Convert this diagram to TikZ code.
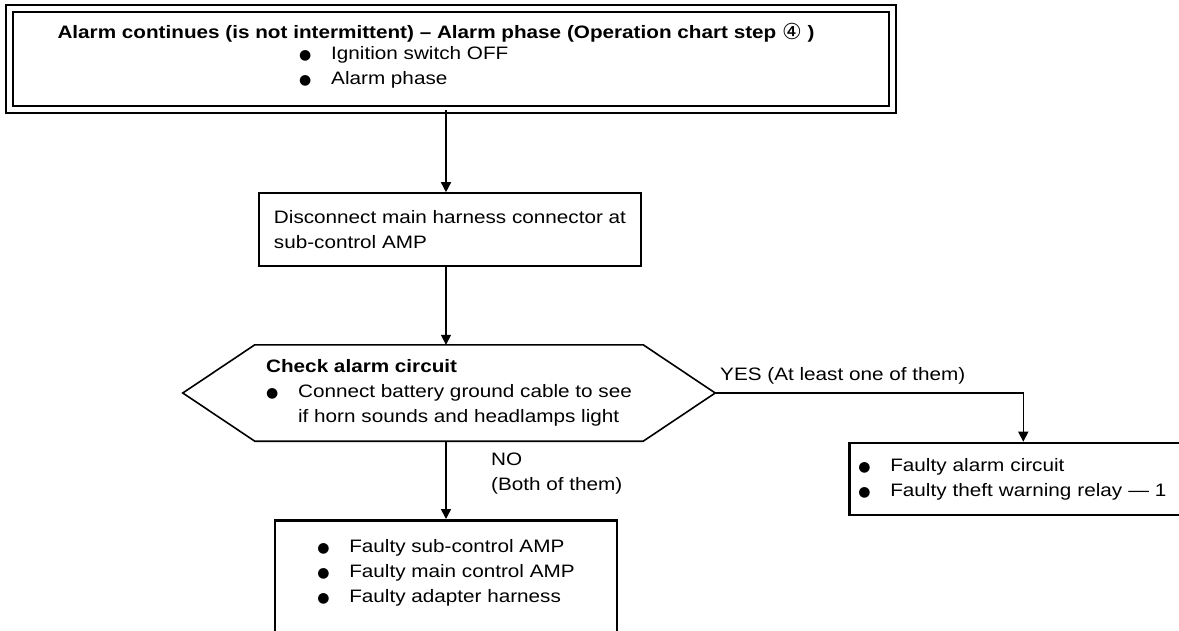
\documentclass[tikz,border=0pt]{standalone}
\usepackage{fontspec}
\setmainfont{Liberation Sans}[FakeStretch=1.15]
\newfontfamily\symfnt{DejaVu Sans}
\usetikzlibrary{arrows.meta}

\newcommand\bul{\makebox[32pt][l]{\symfnt\fontsize{14}{14}\selectfont ●}}

\begin{document}
\begin{tikzpicture}[
    x=1pt, y=-1pt,
    font=\fontsize{18}{25}\selectfont,
    txt/.style={inner sep=0pt, align=left},
    box/.style={draw, line width=1.6pt, inner sep=0pt, align=left},
    result/.style={draw, line width=2.6pt, inner sep=0pt, align=left},
    check/.style={minimum width=532pt, minimum height=96pt, inner sep=2pt, align=left},
    frame/.style={line width=1.6pt},
    arrow/.style={line width=1.6pt, -{Triangle[length=10pt,width=10pt]}}
]

\useasboundingbox (0,0) rectangle (1179,630);
\clip (0,0) rectangle (1179,630);

\node[box, double, double distance=5pt, minimum width=883pt, minimum height=101pt] (alarm) at (451,59) {};
\node[txt, font=\fontsize{18}{25}\selectfont\bfseries] (title) at (436,33)
    {Alarm continues (is not intermittent) – Alarm phase (Operation chart step {\mdseries\symfnt\fontsize{22}{22}\selectfont\raisebox{-1pt}{④}} )};
\node[txt, anchor=west] (cond) at (299,67) {\bul Ignition switch OFF\\ \bul Alarm phase};

\node[box, minimum width=382pt, minimum height=73pt] (disc) at (450,229.5)
    {Disconnect main harness connector at\\sub-control AMP};

% decision hexagon
\node[check] (chk) at (449,393)
    {\textbf{Check alarm circuit}\\ \bul Connect battery ground cable to see\\ \hspace*{32pt}if horn sounds and headlamps light};
\draw[frame] (chk.west) -- ([xshift=72pt]chk.north west) -- ([xshift=-72pt]chk.north east)
    -- (chk.east) -- ([xshift=-72pt]chk.south east) -- ([xshift=72pt]chk.south west) -- cycle;

\node[result, anchor=north, minimum width=342pt, inner ysep=19pt, text depth=90pt] (fault) at (446,519)
    {\bul Faulty sub-control AMP\\ \bul Faulty main control AMP\\ \bul Faulty adapter harness};
\node[result, anchor=west, minimum width=348pt, minimum height=72pt, text width=330pt] (relay) at (848,479)
    {\bul Faulty alarm circuit\\ \bul Faulty theft warning relay — 1};

\draw[arrow] (alarm.south -| fault.north) -- (disc.north -| fault.north);
\draw[arrow] (disc.south -| fault.north) -- (chk.north -| fault.north);
\draw[arrow] (chk.south -| fault.north) -- (fault.north);
\draw[arrow] (chk.east) -| (relay.north);

\node[txt, anchor=base west] (yes) at (720,380) {YES (At least one of them)};
\node[txt, anchor=north west] (no) at (491,453) {NO\\(Both of them)};

\end{tikzpicture}
\end{document}
